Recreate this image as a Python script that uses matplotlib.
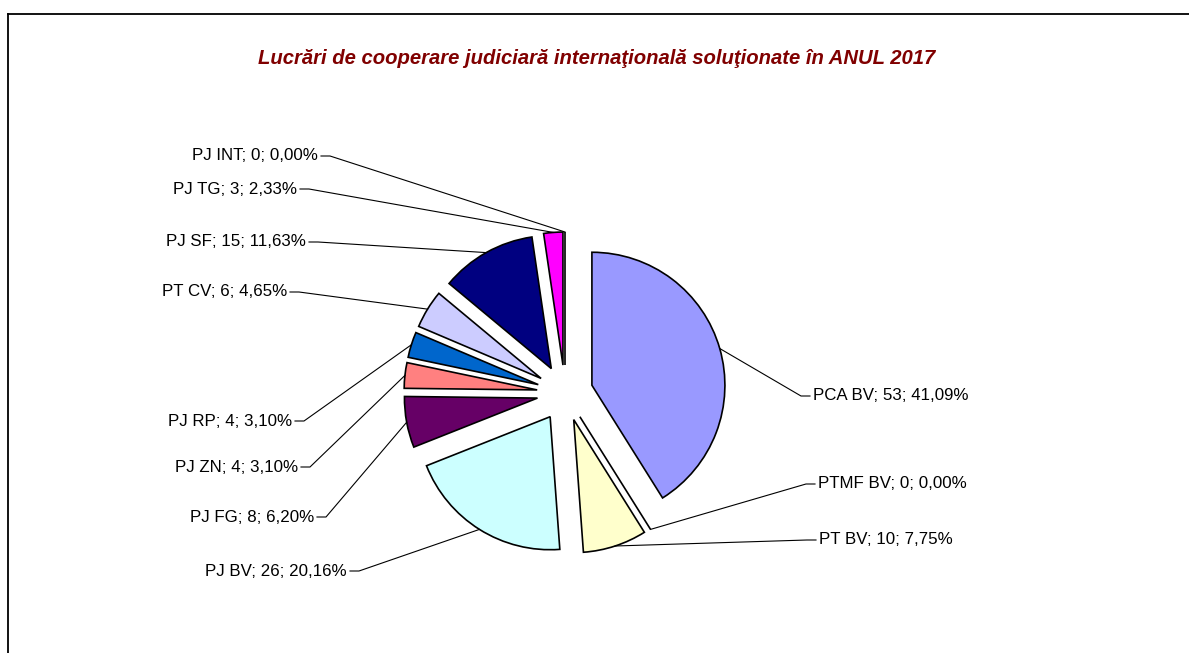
import matplotlib
matplotlib.use('Agg')
import matplotlib.pyplot as plt
import numpy as np

# Date
categorii = ['PCA BV', 'PTMF BV', 'PT BV', 'PJ BV', 'PJ FG', 'PJ ZN',
             'PJ RP', 'PT CV', 'PJ SF', 'PJ TG', 'PJ INT']
valori = [53, 0, 10, 26, 8, 4, 4, 6, 15, 3, 0]
culori = ['#9999FF', '#993366', '#FFFFCC', '#CCFFFF', '#660066', '#FF8080',
          '#0066CC', '#CCCCFF', '#000080', '#FF00FF', '#FFFF00']
titlu = 'Lucrări de cooperare judiciară internaţională soluţionate în ANUL 2017'

W, H = 1189, 653
plt.rcParams['font.family'] = ['Liberation Sans', 'DejaVu Sans']

fig = plt.figure(figsize=(W / 100, H / 100), dpi=100)
ax = fig.add_axes([0, 0, 1, 1])

def py(y):
    # coordonata y in pixeli (de sus) -> coordonata axei
    return H - y

total = sum(valori)
wedges, _ = ax.pie(valori, colors=culori, startangle=90, counterclock=False,
                   radius=133, center=(565, py(393)),
                   explode=[28] * len(valori),
                   wedgeprops=dict(edgecolor='black', linewidth=1.2),
                   normalize=True)

ax.set_xlim(0, W)
ax.set_ylim(0, H)
ax.set_aspect('auto')
ax.axis('off')

# pozitiile etichetelor (capatul textului dinspre grafic), in pixeli
pozitii = {
    'PCA BV': (813, 396, 'left'),
    'PTMF BV': (818, 484, 'left'),
    'PT BV': (819, 540, 'left'),
    'PJ BV': (347, 571, 'right'),
    'PJ FG': (314, 517, 'right'),
    'PJ ZN': (298, 467, 'right'),
    'PJ RP': (292, 421, 'right'),
    'PT CV': (287, 292, 'right'),
    'PJ SF': (306, 242, 'right'),
    'PJ TG': (297, 189, 'right'),
    'PJ INT': (318, 156, 'right'),
}

for w, cat, val in zip(wedges, categorii, valori):
    tm = np.deg2rad((w.theta1 + w.theta2) / 2)
    xa = w.center[0] + w.r * np.cos(tm)
    ya = w.center[1] + w.r * np.sin(tm)
    tx, ty, ha = pozitii[cat]
    s = 1 if ha == 'left' else -1
    cot = tx - s * 12
    ax.plot([xa, cot, tx - s * 3], [ya, py(ty), py(ty)], color='black', lw=0.8)
    pct = f'{val / total * 100:.2f}'.replace('.', ',')
    ax.text(tx, py(ty), f'{cat}; {val}; {pct}%', ha=ha, va='center',
            fontsize=12.2, color='black')

ax.text(597, py(58), titlu, ha='center', va='center', fontsize=14.6,
        fontweight='bold', fontstyle='italic', color='#800000')

# chenar
ax.plot([8, W], [py(14), py(14)], color='black', lw=1.3, clip_on=False)
ax.plot([8, 8], [py(14), 0], color='black', lw=1.3, clip_on=False)

fig.savefig('out.png', dpi=100)
